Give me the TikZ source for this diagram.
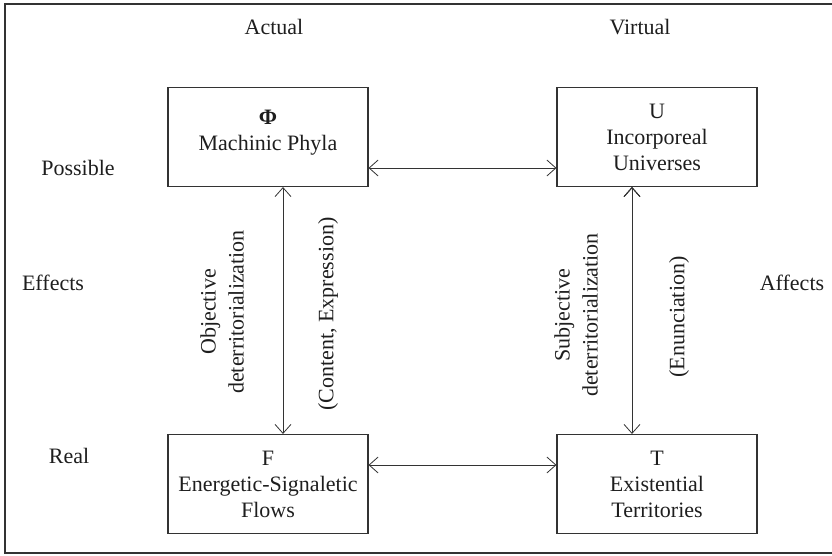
\documentclass[tikz,border=0pt]{standalone}
\usepackage{fontspec}
\setmainfont{Liberation Serif}
\usetikzlibrary{arrows.meta}

\definecolor{ink}{HTML}{1E1E1E}
\definecolor{rule}{HTML}{333333}

\begin{document}
\begin{tikzpicture}[x=1pt,y=1pt,auto,node distance=389pt,
				>={Straight Barb[length=9pt,width=16pt]},
				main node/.style = {rectangle,draw=rule,line width=1.1pt,inner sep=0pt,
					minimum width=200pt,minimum height=99pt,align=center,text=ink,
					font=\fontsize{22}{26}\selectfont},
				label node/.style = {text=ink,font=\fontsize{22}{26}\selectfont},
				side node/.style = {text=ink,align=center,rotate=90,
					font=\fontsize{22}{28}\selectfont},
				link/.style = {<->,draw=rule,line width=0.8pt}]
				\useasboundingbox (0,0) rectangle (832,555);
				\draw[rule,line width=1.3pt] (5,551) rectangle (845,2);
				
				\node[main node] (1) at (268,418) {{\bfseries Φ}\\Machinic Phyla\\[-12pt]\mbox{}};
				\node[main node] [right of = 1](2) {U\\Incorporeal\\Universes};
				\node[main node] [below of = 1,node distance=347pt](3) {F\\Energetic-Signaletic\\Flows};
				\node[main node] [right of = 3](4) {T\\Existential\\Territories};
				
				% row and column heads
				\node[label node] (act) at (274,528) {Actual};
				\node[label node] (vir) at (640,528) {Virtual};
				\node[label node] (pos) at (78,387) {Possible};
				\node[label node] (eff) at (53,272) {Effects};
				\node[label node] (rea) at (69,99) {Real};
				\node[label node] (aff) at (792,272) {Affects};
				
				% labels along the vertical arrows
				\node[side node] (obj) at (222,243) {Objective\\deterritorialization};
				\node[side node] (ce) at (328,241) {(Content, Expression)};
				\node[side node] (sub) at (576,240) {Subjective\\deterritorialization};
				\node[side node] (enu) at (679,238) {(Enunciation)};
				
				\path[link]
				([yshift=-31pt]1.east) edge ([yshift=-31pt]1.east -| 2.west)
				([yshift=19pt]3.east) edge ([yshift=19pt]3.east -| 4.west)
				([xshift=15pt]1.south) edge ([xshift=15pt]1.south |- 3.north)
				([xshift=-25pt]2.south) edge ([xshift=-25pt]2.south |- 4.north);
				\end{tikzpicture}
\end{document}
